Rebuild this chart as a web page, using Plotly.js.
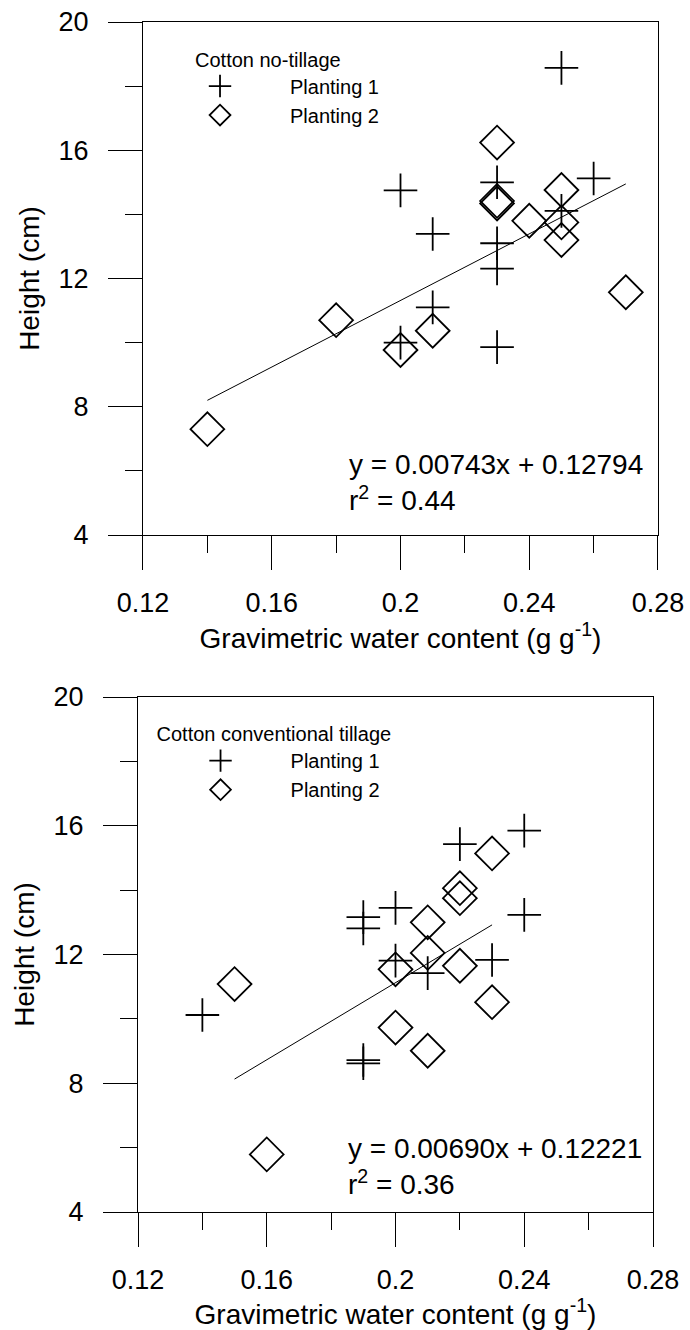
<!DOCTYPE html>
<html>
<head>
<meta charset="utf-8">
<script src="https://cdn.plot.ly/plotly-3.0.1.min.js"></script>
<style>
html, body { margin: 0; padding: 0; background: #ffffff; }
#chart { width: 690px; height: 1330px; }
</style>
</head>
<body>
<div id="chart"></div>
<script>
// ---- Tick values / labels ----
const xTickVals = [0.12, 0.16, 0.2, 0.24, 0.28];
const xTickText = ['0.12', '0.16', '0.2', '0.24', '0.28'];
const xMinorVals = [0.14, 0.18, 0.22, 0.26];
const yTickVals = [4, 8, 12, 16, 20];
const yTickText = ['4', '8', '12', '16', '20'];
const yMinorVals = [6, 10, 14, 18];

// ---- Panel 1: Cotton no-tillage ----
const ntP1X = [0.20, 0.20, 0.21, 0.21, 0.23, 0.23, 0.23, 0.23, 0.25, 0.25, 0.26];
const ntP1Y = [14.75, 10.0, 13.39, 11.1, 15.0, 13.1, 12.31, 9.86, 18.57, 14.11, 15.12];
const ntP2X = [0.14, 0.18, 0.20, 0.21, 0.23, 0.23, 0.23, 0.24, 0.25, 0.25, 0.25, 0.27];
const ntP2Y = [7.3, 10.7, 9.77, 10.37, 16.24, 14.42, 14.34, 13.8, 14.76, 13.75, 13.2, 11.57];
const ntFitX = [0.14, 0.27];
const ntFitY = [8.2, 14.95];
const ntEquation = 'y = 0.00743x + 0.12794';
const ntR2 = 'r<sup>2</sup> = 0.44';

// ---- Panel 2: Cotton conventional tillage ----
const ctP1X = [0.14, 0.19, 0.19, 0.19, 0.19, 0.20, 0.20, 0.21, 0.22, 0.23, 0.24, 0.24];
const ctP1Y = [10.12, 13.16, 12.81, 8.72, 8.62, 13.45, 11.81, 11.42, 15.43, 11.83, 15.85, 13.23];
const ctP2X = [0.15, 0.16, 0.20, 0.20, 0.21, 0.21, 0.21, 0.22, 0.22, 0.22, 0.23, 0.23];
const ctP2Y = [11.08, 5.79, 11.54, 9.73, 13.0, 12.05, 9.01, 14.06, 13.75, 11.65, 15.14, 10.52];
const ctFitX = [0.15, 0.23];
const ctFitY = [8.13, 12.92];
const ctEquation = 'y = 0.00690x + 0.12221';
const ctR2 = 'r<sup>2</sup> = 0.36';

const seriesNames = ['Planting 1', 'Planting 2'];
const panelTitles = ['Cotton no-tillage', 'Cotton conventional tillage'];
const xTitle = 'Gravimetric water content (g g<sup>-1</sup>)';
const yTitle = 'Height (cm)';

const FONT = 'Liberation Sans, Arial, Helvetica, sans-serif';
const pad = '\u00A0'.repeat(9);

function plusTrace(x, y, xa, ya, lg) {
  return { x: x, y: y, xaxis: xa, yaxis: ya, legend: lg, type: 'scatter', mode: 'markers',
    name: pad + seriesNames[0], cliponaxis: false,
    marker: { symbol: 'cross-thin-open', size: 24, color: '#000', line: { color: '#000', width: 1.8 } } };
}
function diamondTrace(x, y, xa, ya, lg) {
  return { x: x, y: y, xaxis: xa, yaxis: ya, legend: lg, type: 'scatter', mode: 'markers',
    name: pad + seriesNames[1], cliponaxis: false,
    marker: { symbol: 'diamond-open', size: 26, color: '#000', line: { color: '#000', width: 1.8 } } };
}
function fitTrace(x, y, xa, ya) {
  return { x: x, y: y, xaxis: xa, yaxis: ya, type: 'scatter', mode: 'lines', showlegend: false,
    line: { color: '#000', width: 1 }, hoverinfo: 'skip' };
}

const data = [
  plusTrace(ntP1X, ntP1Y, 'x', 'y', 'legend'),
  diamondTrace(ntP2X, ntP2Y, 'x', 'y', 'legend'),
  fitTrace(ntFitX, ntFitY, 'x', 'y'),
  plusTrace(ctP1X, ctP1Y, 'x2', 'y2', 'legend2'),
  diamondTrace(ctP2X, ctP2Y, 'x2', 'y2', 'legend2'),
  fitTrace(ctFitX, ctFitY, 'x2', 'y2')
];

function xAxis(domain, anchor) {
  return {
    domain: domain, anchor: anchor, range: [0.12, 0.28], autorange: false,
    tickmode: 'array', tickvals: xTickVals, ticktext: xTickText,
    ticks: 'outside', ticklen: 34, tickwidth: 1, tickcolor: '#000',
    minor: { tickmode: 'array', tickvals: xMinorVals, ticks: 'outside', ticklen: 17, tickwidth: 1, tickcolor: '#000' },
    showline: true, linecolor: '#000', linewidth: 1, mirror: true,
    showgrid: false, zeroline: false,
    tickfont: { family: FONT, size: 27, color: '#000' },
    ticklabelstandoff: 10,
    title: { text: xTitle, font: { family: FONT, size: 28, color: '#000' }, standoff: 6 }
  };
}
function yAxis(domain, anchor) {
  return {
    domain: domain, anchor: anchor, range: [4, 20], autorange: false,
    tickmode: 'array', tickvals: yTickVals, ticktext: yTickText,
    ticks: 'outside', ticklen: 34, tickwidth: 1, tickcolor: '#000',
    minor: { tickmode: 'array', tickvals: yMinorVals, ticks: 'outside', ticklen: 17, tickwidth: 1, tickcolor: '#000' },
    showline: true, linecolor: '#000', linewidth: 1, mirror: true,
    showgrid: false, zeroline: false,
    tickfont: { family: FONT, size: 27, color: '#000' },
    ticklabelstandoff: 14,
    title: { text: yTitle, font: { family: FONT, size: 28, color: '#000' }, standoff: 10 }
  };
}

function legendCfg(x, y, title, indent) {
  return {
    x: x, y: y, xanchor: 'left', yanchor: 'top', bgcolor: 'rgba(0,0,0,0)', borderwidth: 0,
    font: { family: FONT, size: 20, color: '#000' },
    title: { text: title, font: { family: FONT, size: 20, color: '#000' } },
    indentation: indent,
    tracegroupgap: 0
  };
}

function eqAnn(xref, yref, x, y, text) {
  return { xref: xref, yref: yref, x: x, y: y, text: text, showarrow: false,
    xanchor: 'left', yanchor: 'middle', align: 'left',
    font: { family: FONT, size: 28, color: '#000' } };
}

const layout = {
  width: 690, height: 1330,
  margin: { l: 138, r: 32, t: 22, b: 118 },
  paper_bgcolor: '#ffffff', plot_bgcolor: '#ffffff',
  font: { family: FONT, color: '#000' },
  showlegend: true,
  xaxis: xAxis([0.009615, 1.0], 'y'),
  yaxis: yAxis([0.568908, 1.0], 'x'),
  xaxis2: xAxis([0.0, 0.990385], 'y2'),
  yaxis2: yAxis([0.0, 0.432773], 'x2'),
  legend: legendCfg(0.1058, 0.9844, panelTitles[0], 7),
  legend2: legendCfg(0.0318, 0.4175, panelTitles[1], 46),
  annotations: [
    eqAnn('x', 'y', 0.1834, 5.636, ntEquation + '<br>' + ntR2),
    eqAnn('x2', 'y2', 0.1846, 5.415, ctEquation + '<br>' + ctR2)
  ]
};

Plotly.newPlot('chart', data, layout, { staticPlot: true, displayModeBar: false });
</script>
</body>
</html>
